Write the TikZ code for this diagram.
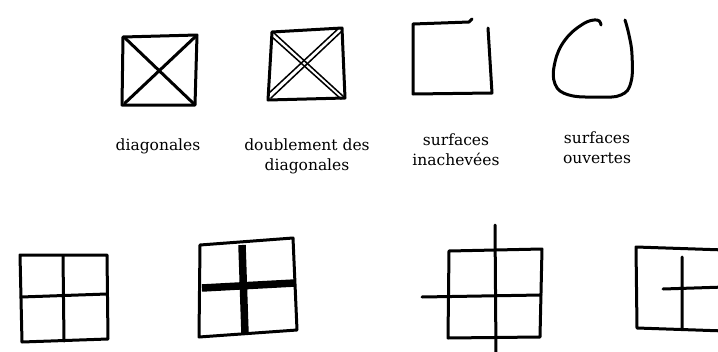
\documentclass[tikz,border=0pt]{standalone}
\usepackage{fontspec}
\setmainfont{DejaVu Serif}
\tikzset{
  pen/.style={line width=3pt,line cap=round,line join=round},
  fine/.style={line width=1.5pt,line cap=round},
  fat/.style={line width=7.5pt},
  lbl/.style={font=\fontsize{15.5}{20}\selectfont,align=center,anchor=base,inner sep=0pt}
}

\begin{document}
\begin{tikzpicture}[x=1pt,y=-1pt]
\fill[white] (0,0) rectangle (718,351);
\clip (0,0) rectangle (718,351);
% top row
\draw[pen] (123,37) -- (197,35) -- (195,105) -- (122,105) -- cycle;
\draw[pen] (125,38) -- (193,103) (195,37) -- (125,103);
\draw[pen] (272,32) -- (342,28) -- (345,98) -- (268,100) -- cycle;
\draw[fine] (274,33) -- (344,97) (272,37) -- (341,99);
\draw[fine] (342,31) -- (271,98) (339,28) -- (268,94);
\draw[pen] (472,19) -- (469,22) -- (413,24) -- (413,94) -- (492,93) -- (488,28);
\draw[pen] plot[smooth,tension=.7] coordinates {(601,25) (597,20) (583,24) (565,40) (555,62) (555,84) (569,95) (598,97) (621,95) (631,82) (632,55) (629,35) (625,20)};
\node[lbl] (diag) at (158,150) {diagonales};
\node[lbl] (dbl) at (307,170) {doublement des\\diagonales};
\node[lbl] (inach) at (456,165) {surfaces\\inachevées};
\node[lbl] (ouv) at (597,163) {surfaces\\ouvertes};
% bottom row
\draw[pen] (20,255) -- (107,255) -- (108,339) -- (22,342) -- cycle;
\draw[pen] (63,256) -- (64,341) (21,297) -- (107,294);
\draw[pen] (200,245) -- (293,238) -- (297,330) -- (199,337) -- cycle;
\draw[fat] (242,245) -- (245,334) (202,288) -- (295,283);
\draw[pen] (449,251) -- (542,249) -- (540,337) -- (448,338) -- cycle;
\draw[pen] (495,225) -- (496,355) (422,297) -- (541,295);
\draw[pen] (725,250) -- (636,247) -- (637,328) -- (725,331);
\draw[pen] (682,257) -- (682,329) (663,289) -- (725,287);
\end{tikzpicture}
\end{document}
